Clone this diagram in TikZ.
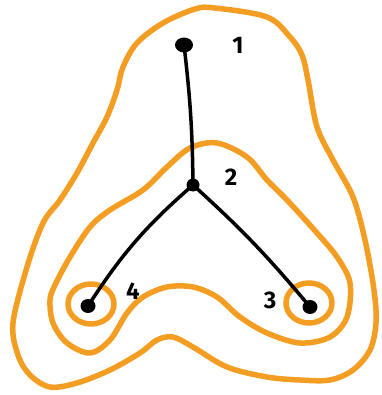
\documentclass[tikz,border=0pt]{standalone}
\usepackage{fontspec}
\setmainfont{Fira Sans}
\usetikzlibrary{shapes.geometric}
\definecolor{hlorange}{RGB}{244,157,35}
\tikzset{
  dot/.style={ellipse, fill=black, inner sep=0pt},
  lab/.style={font=\fontsize{24}{24}\selectfont\bfseries, inner sep=0pt},
  edge/.style={draw=black, line width=3.5pt, line cap=round},
  hull/.style={draw=hlorange, line width=5.5pt, line join=round}
}
\begin{document}
\begin{tikzpicture}[x=1pt,y=-1pt]
\useasboundingbox (0,0) rectangle (381,395);
% outer hull
\draw[hull] plot[smooth cycle, tension=0.55] coordinates {
 (215,8) (267,17) (290,37) (302,55) (308,80) (317,127) (333,160) (353,197)
 (365,240) (374,290) (376,323) (370,350) (353,370) (330,380) (300,380)
 (267,377) (227,367) (193,347) (173,337) (157,340) (140,353) (110,370)
 (77,383) (50,387) (30,375) (18,355) (13,323) (27,267) (43,223) (60,200)
 (77,173) (93,143) (107,117) (117,90) (123,67) (137,43) (163,23) (195,9)};
% middle hull
\draw[hull] plot[smooth cycle, tension=0.55] coordinates {
 (217,143) (247,157) (267,180) (287,200) (317,233) (337,257) (350,283)
 (347,317) (330,337) (300,343) (267,333) (240,317) (217,297) (193,287)
 (167,287) (143,297) (127,313) (110,340) (90,353) (67,343) (53,323)
 (50,300) (55,285) (70,257) (90,227) (110,210) (143,190) (167,167) (190,148)};
% small circles
\draw[hull] (91,304) ellipse [x radius=23, y radius=20];
\draw[hull] (309,303) ellipse [x radius=23, y radius=20];
% nodes
\node[dot, minimum width=18pt, minimum height=15pt] (n1) at (184,45) {};
\node[dot, minimum width=13pt, minimum height=13pt] (n2) at (193,185) {};
\node[dot, minimum width=15pt, minimum height=14pt] (n3) at (310,307) {};
\node[dot, minimum width=15pt, minimum height=14pt] (n4) at (88,306) {};
% edges
\draw[edge] (n1.center) to[bend left=3] (n2.center);
\draw[edge] (n2.center) to[bend right=8] (n4.center);
\draw[edge] (n2.center) to[bend left=4] (n3.center);
% labels
\node[lab] (l1) at (238,45) {1};
\node[lab] (l2) at (231,177) {2};
\node[lab] (l3) at (270,300) {3};
\node[lab] (l4) at (133,291) {4};
\end{tikzpicture}
\end{document}
